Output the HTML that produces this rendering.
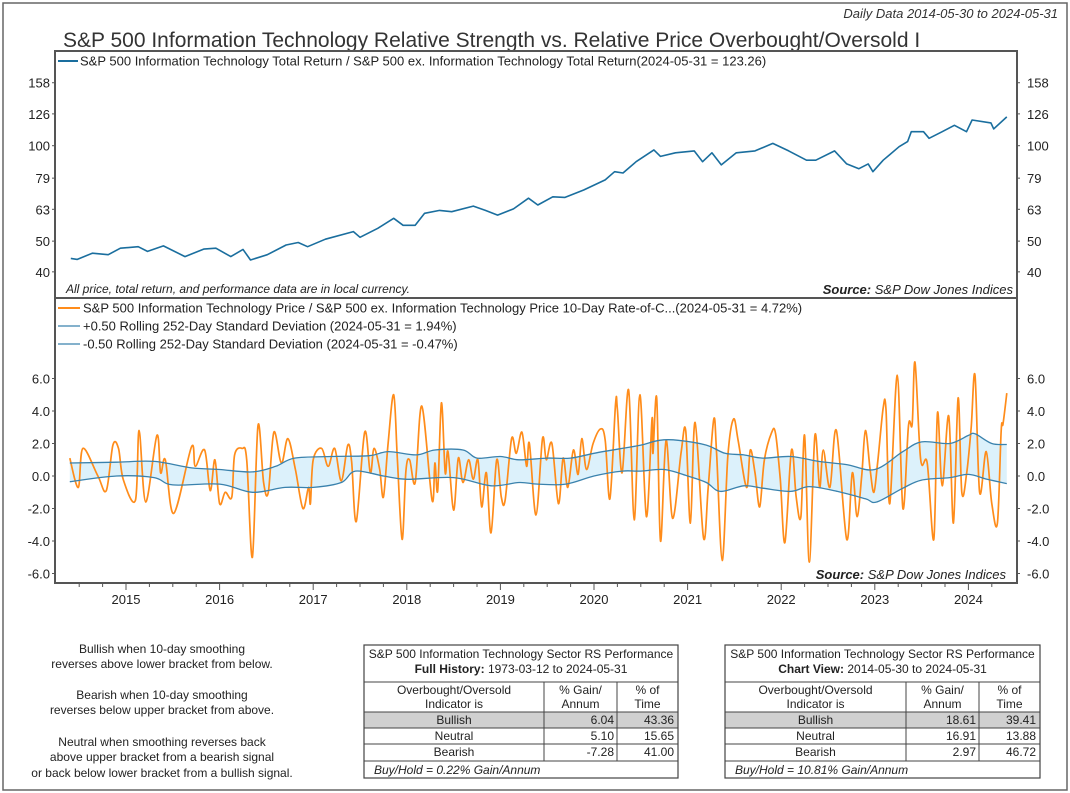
<!DOCTYPE html>
<html><head><meta charset="utf-8">
<style>
html,body{margin:0;padding:0;background:#fff;}
svg{display:block;font-family:"Liberation Sans",sans-serif;}
</style></head>
<body>
<svg id="chart" width="1070" height="793" viewBox="0 0 1070 793" xmlns="http://www.w3.org/2000/svg">
<rect x="3" y="3" width="1064" height="787" fill="#fff" stroke="#666" stroke-width="1.5"/>
<text x="1058" y="18" text-anchor="end" font-size="13" font-style="italic" fill="#333">Daily Data 2014-05-30 to 2024-05-31</text>
<text x="63" y="47" font-size="21" fill="#333">S&amp;P 500 Information Technology Relative Strength vs. Relative Price Overbought/Oversold I</text>
<g id="bands"></g>
<g id="series"></g>
<g id="axes"></g>
<rect x="55" y="51" width="962" height="247" fill="none" stroke="#555" stroke-width="2"/>
<rect x="55" y="298" width="962" height="285" fill="none" stroke="#555" stroke-width="2"/>
<g>
<line x1="58" y1="61" x2="78" y2="61" stroke="#1a6e9e" stroke-width="2"/>
<text x="80" y="65.5" font-size="13" fill="#222">S&amp;P 500 Information Technology Total Return / S&amp;P 500 ex. Information Technology Total Return(2024-05-31 = 123.26)</text>
</g>
<text x="66" y="293" font-size="12" font-style="italic" fill="#222">All price, total return, and performance data are in local currency.</text>
<text x="1013" y="294" text-anchor="end" font-size="13" font-style="italic" fill="#222"><tspan font-weight="bold">Source:</tspan>   S&amp;P Dow Jones Indices</text>
<g>
<line x1="58" y1="308" x2="80" y2="308" stroke="#ff8c1a" stroke-width="2"/>
<text x="83" y="312.5" font-size="13" fill="#222">S&amp;P 500 Information Technology Price / S&amp;P 500 ex. Information Technology Price 10-Day Rate-of-C...(2024-05-31 = 4.72%)</text>
<line x1="58" y1="326" x2="80" y2="326" stroke="#3a82ad" stroke-width="1.2"/>
<text x="83" y="330.5" font-size="13" fill="#222">+0.50 Rolling 252-Day Standard Deviation (2024-05-31 = 1.94%)</text>
<line x1="58" y1="344" x2="80" y2="344" stroke="#3a82ad" stroke-width="1.2"/>
<text x="83" y="348.5" font-size="13" fill="#222">-0.50 Rolling 252-Day Standard Deviation (2024-05-31 = -0.47%)</text>
</g>
<text x="1006" y="579" text-anchor="end" font-size="13" font-style="italic" fill="#222"><tspan font-weight="bold">Source:</tspan>   S&amp;P Dow Jones Indices</text>

<g font-size="12" fill="#222" text-anchor="middle">
<text x="162" y="653">Bullish when 10-day smoothing</text>
<text x="162" y="668">reverses above lower bracket from below.</text>
<text x="162" y="699">Bearish when 10-day smoothing</text>
<text x="162" y="714">reverses below upper bracket from above.</text>
<text x="162" y="746">Neutral when smoothing reverses back</text>
<text x="162" y="761">above upper bracket from a bearish signal</text>
<text x="162" y="777">or back below lower bracket from a bullish signal.</text>
</g>
<g id="tables"></g>
</svg>
<script>
// ---- data ----
const years = [2015,2016,2017,2018,2019,2020,2021,2022,2023,2024];
const topTicks = [40,50,63,79,100,126,158];
const botTicks = [-6,-4,-2,0,2,4,6];
const rsDates = [2014.41,2014.48,2014.64,2014.81,2014.94,2015.13,2015.23,2015.40,2015.63,2015.83,2015.96,2016.12,2016.25,2016.33,2016.51,2016.71,2016.84,2016.94,2017.13,2017.43,2017.50,2017.69,2017.86,2017.96,2018.09,2018.19,2018.35,2018.48,2018.71,2018.84,2018.97,2019.14,2019.30,2019.40,2019.56,2019.69,2019.89,2020.12,2020.22,2020.31,2020.45,2020.64,2020.71,2020.87,2021.07,2021.16,2021.26,2021.36,2021.52,2021.72,2021.91,2022.08,2022.27,2022.37,2022.57,2022.70,2022.83,2022.93,2022.98,2023.09,2023.26,2023.35,2023.39,2023.52,2023.58,2023.72,2023.85,2023.98,2024.04,2024.24,2024.27,2024.41];
const rsValues = [44.1,43.8,45.8,45.3,47.5,48.0,46.4,48.3,44.7,47.2,47.5,44.7,47.1,43.6,45.3,48.6,49.5,48.0,50.7,53.6,51.4,54.9,59.0,56.1,56.1,61.2,62.5,61.9,64.5,62.5,60.4,63.2,68.3,65.0,69.0,68.7,72.5,78.0,82.8,82.0,89.0,97.0,92.5,95.0,96.3,89.0,95.0,87.0,95.0,96.3,101.7,96.3,90.0,90.0,96.3,87.6,84.6,87.6,82.8,90.0,99.3,103.0,110.7,110.7,105.5,110.7,116.0,110.7,120.5,118.0,113.0,123.26];
const rocDates = [2014.40,2014.49,2014.54,2014.70,2014.79,2014.86,2014.92,2014.97,2015.10,2015.14,2015.21,2015.33,2015.37,2015.42,2015.51,2015.70,2015.74,2015.84,2015.90,2015.95,2016.00,2016.06,2016.13,2016.16,2016.24,2016.29,2016.35,2016.41,2016.47,2016.52,2016.58,2016.66,2016.73,2016.81,2016.89,2016.95,2016.97,2017.00,2017.09,2017.16,2017.23,2017.30,2017.37,2017.41,2017.46,2017.55,2017.61,2017.65,2017.71,2017.75,2017.80,2017.86,2017.90,2017.95,2017.99,2018.03,2018.09,2018.16,2018.27,2018.30,2018.33,2018.37,2018.41,2018.44,2018.50,2018.55,2018.60,2018.66,2018.71,2018.76,2018.80,2018.85,2018.90,2018.96,2019.01,2019.05,2019.12,2019.17,2019.23,2019.28,2019.31,2019.38,2019.45,2019.49,2019.55,2019.62,2019.67,2019.72,2019.78,2019.83,2019.87,2019.92,2019.99,2020.07,2020.12,2020.17,2020.23,2020.25,2020.30,2020.37,2020.43,2020.49,2020.56,2020.62,2020.63,2020.67,2020.71,2020.77,2020.84,2020.93,2020.98,2021.03,2021.08,2021.17,2021.22,2021.28,2021.31,2021.37,2021.43,2021.49,2021.54,2021.63,2021.67,2021.72,2021.77,2021.82,2021.90,2021.94,2021.99,2022.04,2022.11,2022.16,2022.21,2022.25,2022.30,2022.36,2022.41,2022.45,2022.52,2022.59,2022.70,2022.76,2022.81,2022.86,2022.90,2022.95,2022.99,2023.03,2023.09,2023.12,2023.16,2023.24,2023.30,2023.36,2023.40,2023.43,2023.49,2023.56,2023.63,2023.67,2023.72,2023.79,2023.84,2023.89,2023.93,2023.98,2024.03,2024.07,2024.12,2024.19,2024.25,2024.31,2024.35,2024.37,2024.41];
const rocValues = [1.1,-0.7,1.7,0.0,-0.9,1.9,1.7,-0.2,-1.5,2.8,-1.6,2.5,0.2,1.0,-2.3,1.8,0.6,1.6,-0.9,1.0,-1.7,-1.0,-1.3,1.3,1.7,1.0,-5.0,3.1,-0.4,-1.0,2.7,0.8,2.3,0.4,-2.0,-0.7,-1.7,1.0,1.7,0.6,1.7,-0.3,1.9,0.9,-2.8,2.7,0.2,1.7,0.4,-1.3,2.0,5.0,1.0,-3.9,0.3,1.0,-0.4,4.3,-1.5,0.8,-0.9,4.5,0.2,1.5,-2.1,1.1,-0.4,1.0,-0.2,1.0,-1.9,0.2,-3.5,1.0,-1.3,-1.5,2.3,1.4,2.7,0.6,2.0,-2.4,2.3,1.0,2.0,-1.7,1.1,-0.7,1.6,0.1,2.3,0.4,2.0,2.9,2.2,-1.4,4.4,4.1,0.2,5.3,-2.7,5.0,-2.5,3.5,1.4,4.8,-4.0,2.2,-2.6,1.4,2.8,-2.9,3.3,-3.8,-0.7,3.5,1.4,-5.2,1.2,3.5,2.2,-0.7,1.6,0.2,-1.9,1.0,2.7,2.6,-0.2,-4.1,1.6,-1.3,-2.5,2.5,-5.3,2.5,-0.7,1.6,-0.7,2.8,-3.9,0.2,-2.5,0.0,2.8,0.4,-1.0,0.8,4.2,4.1,-1.7,6.2,-2.0,3.1,3.2,7.0,1.0,0.8,-3.9,3.9,-0.6,3.7,-2.9,4.8,-1.0,0.1,3.0,6.2,-1.0,1.5,-1.7,-2.9,2.8,3.2,5.1];
const upDates = [2014.40,2014.90,2015.30,2015.70,2016.00,2016.35,2016.60,2016.80,2017.20,2017.60,2017.80,2018.10,2018.30,2018.60,2018.75,2019.00,2019.20,2019.50,2019.75,2020.00,2020.30,2020.50,2020.70,2020.90,2021.20,2021.40,2021.60,2021.80,2022.10,2022.40,2022.70,2023.00,2023.30,2023.50,2023.80,2024.00,2024.07,2024.25,2024.41];
const upValues = [0.8,0.85,0.9,0.5,0.4,0.25,0.6,1.1,1.2,1.25,1.5,1.3,1.6,1.6,1.1,1.2,1.0,1.1,1.1,1.4,1.7,1.9,2.2,2.2,1.9,1.4,1.3,1.1,1.2,0.9,0.7,0.4,1.5,2.1,2.0,2.5,2.6,2.0,1.94];
const loDates = [2014.40,2014.90,2015.30,2015.50,2016.00,2016.35,2016.70,2017.00,2017.30,2017.45,2017.75,2018.00,2018.50,2018.90,2019.20,2019.40,2019.70,2020.00,2020.30,2020.50,2020.75,2021.00,2021.20,2021.35,2021.60,2021.80,2022.10,2022.30,2022.60,2022.90,2023.02,2023.30,2023.50,2023.80,2024.00,2024.20,2024.41];
const loValues = [-0.35,0.0,-0.1,-0.55,-0.5,-1.0,-0.7,-0.7,-0.4,0.3,0.0,-0.2,-0.1,-0.6,-0.4,-0.5,-0.5,0.0,0.3,0.3,0.4,0.0,-0.4,-0.95,-0.6,-0.75,-0.95,-0.65,-0.95,-1.4,-1.6,-0.75,-0.25,-0.1,0.1,-0.2,-0.47];

// ---- axis functions ----
const NS = "http://www.w3.org/2000/svg";
const xPos = t => 126 + (t - 2015) * 93.6;
const yTop = v => 145.7 - (Math.log10(v) - 2) * 317;
const yBot = v => 476 - v * 16.25;
function mk(tag, attrs, parent){const e=document.createElementNS(NS,tag);for(const k in attrs)e.setAttribute(k,attrs[k]);parent.appendChild(e);return e;}
function smooth(pts, start){
  // Catmull-Rom to cubic bezier
  let d = (start||'M') + pts[0][0].toFixed(1)+','+pts[0][1].toFixed(1);
  for(let i=0;i<pts.length-1;i++){
    const p0=pts[Math.max(0,i-1)],p1=pts[i],p2=pts[i+1],p3=pts[Math.min(pts.length-1,i+2)];
    const c1=[p1[0]+(p2[0]-p0[0])/6,p1[1]+(p2[1]-p0[1])/6];
    const c2=[p2[0]-(p3[0]-p1[0])/6,p2[1]-(p3[1]-p1[1])/6];
    d+=' C'+c1[0].toFixed(1)+','+c1[1].toFixed(1)+' '+c2[0].toFixed(1)+','+c2[1].toFixed(1)+' '+p2[0].toFixed(1)+','+p2[1].toFixed(1);
  }
  return d;
}
const axes = document.getElementById('axes');
const series = document.getElementById('series');
const bands = document.getElementById('bands');

const upPts = upDates.map((d,i)=>[xPos(d),yBot(upValues[i])]);
const loPts = loDates.map((d,i)=>[xPos(d),yBot(loValues[i])]);
const bandPath = smooth(upPts) + ' ' + smooth(loPts.slice().reverse(),'L') + ' Z';
const bandPoly = mk('path',{d:bandPath,fill:'#dcf1fb',stroke:'none'},bands);



const rocLine = mk('path',{d:smooth(rocDates.map((d,i)=>[xPos(d),yBot(rocValues[i])])),fill:'none',stroke:'#ff8c1a','stroke-width':1.7,'stroke-linejoin':'round'},series);


const upLine = mk('path',{d:smooth(upPts),fill:'none',stroke:'#3a82ad','stroke-width':1.3},series);


const loLine = mk('path',{d:smooth(loPts),fill:'none',stroke:'#3a82ad','stroke-width':1.3},series);


const rsLine = mk('polyline',{points:rsDates.map((d,i)=>xPos(d).toFixed(1)+','+yTop(rsValues[i]).toFixed(1)).join(' '),fill:'none',stroke:'#1a6e9e','stroke-width':1.6,'stroke-linejoin':'round'},series);



topTicks.forEach(v=>{
  const y=yTop(v);
  mk('line',{x1:52,y1:y,x2:55,y2:y,stroke:'#555','stroke-width':1},axes);
  mk('line',{x1:1017,y1:y,x2:1020,y2:y,stroke:'#555','stroke-width':1},axes);
  const l=mk('text',{x:50,y:y+5,'text-anchor':'end','font-size':13,fill:'#222'},axes); l.textContent=v;
  
  
  const r=mk('text',{x:1027,y:y+5,'font-size':13,fill:'#222'},axes); r.textContent=v;
  
  
});
botTicks.forEach(v=>{
  const y=yBot(v);
  mk('line',{x1:52,y1:y,x2:55,y2:y,stroke:'#555','stroke-width':1},axes);
  mk('line',{x1:1017,y1:y,x2:1020,y2:y,stroke:'#555','stroke-width':1},axes);
  const s=v.toFixed(1);
  const l=mk('text',{x:50,y:y+5,'text-anchor':'end','font-size':13,fill:'#222'},axes); l.textContent=s;
  
  
  const r=mk('text',{x:1027,y:y+5,'font-size':13,fill:'#222'},axes); r.textContent=s;
  
  
});
for(let q=2014.5;q<=2024.5;q+=0.25){const x=xPos(q); if(x<57||x>1015)continue; const major=Math.abs(q-Math.round(q))<0.01; mk('line',{x1:x,y1:583,x2:x,y2:major?590:587,stroke:'#555','stroke-width':1},axes);}
years.forEach(yr=>{
  const t=mk('text',{x:xPos(yr),y:604,'text-anchor':'middle','font-size':13,fill:'#222'},axes); t.textContent=yr;
  
  
});

const tables = document.getElementById('tables');
function table(x0,c1,c2,x1,title,bold,range,rows,bh){
  const g=mk('g',{},tables);
  
  
  mk('rect',{x:x0,y:712,width:x1-x0,height:16,fill:'#d0d0d0'},g);
  mk('rect',{x:x0,y:645,width:x1-x0,height:133,fill:'none',stroke:'#444','stroke-width':1.2},g);
  [682,712,728,744,761].forEach(y=>mk('line',{x1:x0,y1:y,x2:x1,y2:y,stroke:'#444','stroke-width':1},g));
  [c1,c2].forEach(x=>mk('line',{x1:x,y1:682,x2:x,y2:761,stroke:'#444','stroke-width':1},g));
  const fs=12;
  const cx=(x0+x1)/2;
  let t=mk('text',{x:cx,y:658,'text-anchor':'middle','font-size':fs,fill:'#222'},g); t.textContent=title;
  t=mk('text',{x:cx,y:673,'text-anchor':'middle','font-size':fs,fill:'#222'},g);
  const b=mk('tspan',{'font-weight':'bold'},t); b.textContent=bold; const r=mk('tspan',{},t); r.textContent=range;
  t=mk('text',{x:(x0+c1)/2,y:694,'text-anchor':'middle','font-size':fs,fill:'#222'},g); t.textContent='Overbought/Oversold';
  t=mk('text',{x:(x0+c1)/2,y:708,'text-anchor':'middle','font-size':fs,fill:'#222'},g); t.textContent='Indicator is';
  t=mk('text',{x:(c1+c2)/2,y:694,'text-anchor':'middle','font-size':fs,fill:'#222'},g); t.textContent='% Gain/';
  t=mk('text',{x:(c1+c2)/2,y:708,'text-anchor':'middle','font-size':fs,fill:'#222'},g); t.textContent='Annum';
  t=mk('text',{x:(c2+x1)/2,y:694,'text-anchor':'middle','font-size':fs,fill:'#222'},g); t.textContent='% of';
  t=mk('text',{x:(c2+x1)/2,y:708,'text-anchor':'middle','font-size':fs,fill:'#222'},g); t.textContent='Time';
  rows.forEach((row,i)=>{
    const y=724+i*16;
    let e=mk('text',{x:(x0+c1)/2,y:y,'text-anchor':'middle','font-size':fs,fill:'#222'},g); e.textContent=row[0];
    e=mk('text',{x:c2-3,y:y,'text-anchor':'end','font-size':fs,fill:'#222'},g); e.textContent=row[1];
    e=mk('text',{x:x1-4,y:y,'text-anchor':'end','font-size':fs,fill:'#222'},g); e.textContent=row[2];
  });
  t=mk('text',{x:x0+10,y:774,'font-size':fs,'font-style':'italic',fill:'#222'},g); t.textContent=bh;
}
table(364,544,617,678,'S&P 500 Information Technology Sector RS Performance','Full History: ','1973-03-12 to 2024-05-31',[['Bullish','6.04','43.36'],['Neutral','5.10','15.65'],['Bearish','-7.28','41.00']],'Buy/Hold = 0.22% Gain/Annum');
table(725,906,979,1040,'S&P 500 Information Technology Sector RS Performance','Chart View: ','2014-05-30 to 2024-05-31',[['Bullish','18.61','39.41'],['Neutral','16.91','13.88'],['Bearish','2.97','46.72']],'Buy/Hold = 10.81% Gain/Annum');
</script>
</body></html>
